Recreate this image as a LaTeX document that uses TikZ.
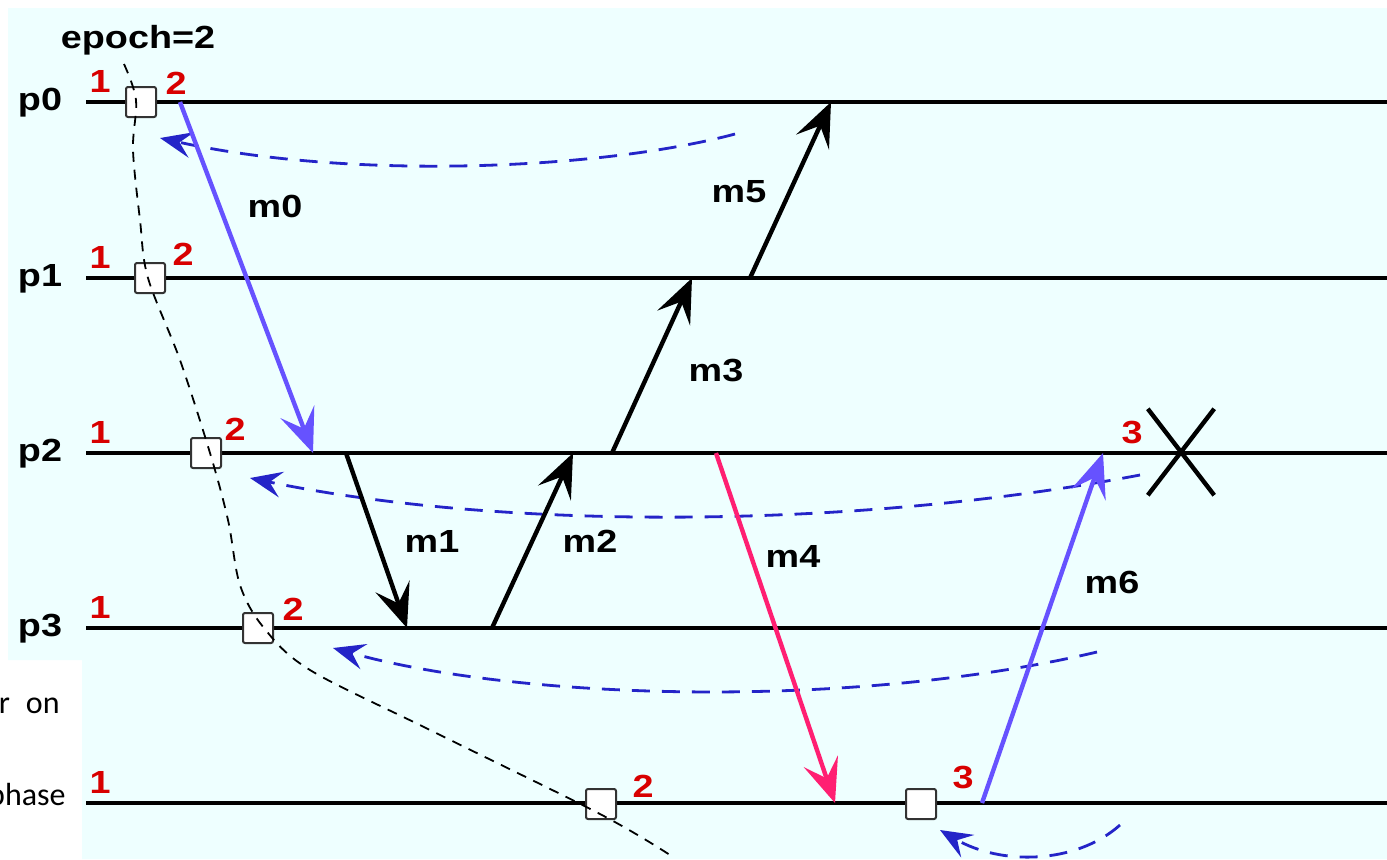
\documentclass[tikz,border=0pt]{standalone}
\usepackage{fontspec}
\usepackage{xcolor}
\usepackage{tikz}
\usetikzlibrary{arrows.meta,shapes.misc}
\newfontfamily\diagfont{Liberation Sans}[FakeStretch=1.18]
\newfontfamily\notefont{Carlito}
\definecolor{PBg}{HTML}{EEFFFF}
\definecolor{PBlue}{HTML}{6652FF}
\definecolor{PPink}{HTML}{FF1F72}
\definecolor{PDash}{HTML}{2424C8}
\definecolor{PRed}{HTML}{D80000}
\definecolor{PBox}{HTML}{333333}

\begin{document}
\begin{tikzpicture}[
  x=0.5pt,y=-0.5pt,
  proc/.style={line width=2.3pt},
  ckpt/.style={draw=PBox,fill=white,line width=1pt,minimum size=15pt,
    inner sep=0pt,rounded corners=1pt},
  plabel/.style={font=\diagfont\bfseries\fontsize{16}{16}\selectfont,
    anchor=base,inner sep=0pt},
  num/.style={plabel,text=PRed},
  note/.style={font=\notefont\fontsize{16}{16}\selectfont,anchor=base east,
    inner sep=0pt},
  msg/.style={line width=2.2pt,-{Stealth[length=22pt,width=18pt,inset=9pt]}},
  rback/.style={PDash,line width=1.4pt,dash pattern=on 9pt off 6pt,
    -{Stealth[length=16pt,width=13pt,inset=6pt]}},
  epoch/.style={line width=0.9pt,dash pattern=on 5pt off 4pt}
]
  % page and picture area
  \fill[white] (0,0) rectangle (1387,859);
  \fill[PBg] (8,8) -- (1387,8) -- (1387,859) -- (82,859) -- (82,660)
    -- (8,660) -- cycle;
  \useasboundingbox (0,0) rectangle (1387,859);
  \node[note] (n0) at (60,713) {r\hspace{8pt}on};
  \node[note] (n1) at (66,805) {phase};

  % process lines
  \foreach \y [count=\i from 0] in {102,278,453,628,803} {
    \coordinate (L\i) at (86,\y);
    \coordinate (R\i) at (1387,\y);
    \draw[proc] (L\i) -- (R\i);
    \node[num] (one\i) at (100,\y-10) {1};
  }
  \foreach \i/\y in {0/102,1/278,2/453,3/628}
    \node[plabel] (lp\i) at (40,\y+8) {p\i};

  % roll-back arrows
  \coordinate (r0a) at (735,134);  \coordinate (r0b) at (160,138);
  \coordinate (r1a) at (1140,475); \coordinate (r1b) at (250,478);
  \coordinate (r2a) at (1097,652); \coordinate (r2b) at (333,648);
  \coordinate (r3a) at (1120,825); \coordinate (r3b) at (940,830);
  \draw[rback] (r0a) .. controls (600,170) and (350,180) .. (r0b);
  \draw[rback] (r1a) .. controls (850,530) and (500,530) .. (r1b);
  \draw[rback] (r2a) .. controls (850,710) and (520,700) .. (r2b);
  \draw[rback] (r3a) .. controls (1075,865) and (1000,865) .. (r3b);

  % messages
  \coordinate (m0a) at (180,102); \coordinate (m0b) at (313,453);
  \coordinate (m1a) at (346,453); \coordinate (m1b) at (407,628);
  \coordinate (m2a) at (492,628); \coordinate (m2b) at (573,453);
  \coordinate (m3a) at (612,453); \coordinate (m3b) at (692,278);
  \coordinate (m4a) at (716,453); \coordinate (m4b) at (835,803);
  \coordinate (m5a) at (750,278); \coordinate (m5b) at (831,102);
  \coordinate (m6a) at (982,803); \coordinate (m6b) at (1103,453);
  \draw[msg,PBlue] (m0a) -- (m0b);
  \draw[msg] (m1a) -- (m1b);
  \draw[msg] (m2a) -- (m2b);
  \draw[msg] (m3a) -- (m3b);
  \draw[msg,PPink] (m4a) -- (m4b);
  \draw[msg] (m5a) -- (m5b);
  \draw[msg,PBlue] (m6a) -- (m6b);
  \node[plabel] (lm0) at (275,217) {m0};
  \node[plabel] (lm1) at (432,552) {m1};
  \node[plabel] (lm2) at (590,552) {m2};
  \node[plabel] (lm3) at (716,381) {m3};
  \node[plabel] (lm4) at (793,567) {m4};
  \node[plabel] (lm5) at (739,202) {m5};
  \node[plabel] (lm6) at (1112,593) {m6};

  % checkpoints
  \node[ckpt] (c0) at (141,102) {};
  \node[ckpt] (c1) at (150,278) {};
  \node[ckpt] (c2) at (206,453) {};
  \node[ckpt] (c3) at (258,628) {};
  \node[ckpt] (c4) at (601,804) {};
  \node[ckpt] (c5) at (921,804) {};
  \node[num] (t0) at (176,94) {2};
  \node[num] (t1) at (183,265) {2};
  \node[num] (t2) at (235,440) {2};
  \node[num] (t3) at (293,620) {2};
  \node[num] (t4) at (643,797) {2};
  \node[num] (t5) at (963,788) {3};
  \node[num] (t6) at (1132,443) {3};

  % recovery line
  \draw[epoch] plot[smooth,tension=0.55] coordinates {(124,64) (136,100)
    (133,150) (140,220) (148,278) (180,360) (210,453) (228,520) (240,585)
    (264,628) (310,670) (430,730) (600,814) (670,855)};
  \node[plabel] (ep) at (138,48) {epoch=2};

  % crash of p2
  \node[cross out,draw,line width=2.2pt,minimum width=31pt,minimum height=41pt,
    inner sep=0pt] (crash) at (1181,452) {};
\end{tikzpicture}
\end{document}
